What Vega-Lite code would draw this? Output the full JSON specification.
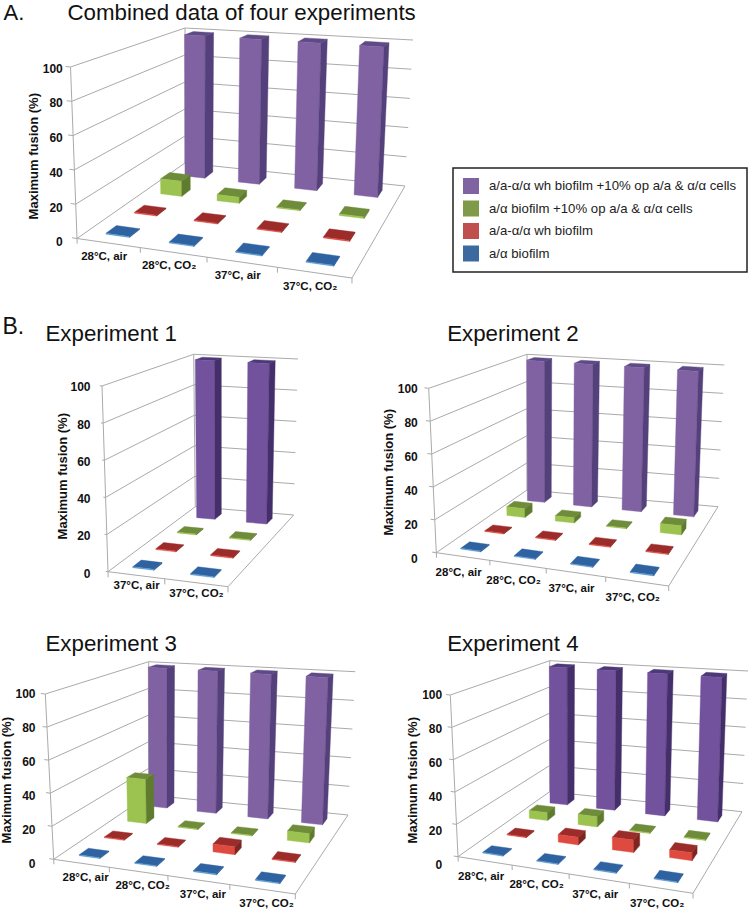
{
"$schema":"https://vega.github.io/schema/vega-lite/v6.json",
"padding":0,"background":"white","spacing":0,"columns":2,"bounds":"flush","align":"each",
"config":{"view":{"stroke":null},"axis":{"labelFont":"Liberation Sans","labelFontWeight":"bold","labelFontSize":12,"labelColor":"#111","titleFont":"Liberation Sans","titleFontWeight":"bold","titleFontSize":13,"titleColor":"#111","grid":false,"ticks":false,"domain":false,"labelPadding":4},"legend":{"labelFont":"Liberation Sans","labelFontSize":13.2,"labelColor":"#222","strokeWidth":1.5},"text":{"font":"Liberation Sans"}},
"params":[
{"name":"G","value":{
"A":[75,238.5,350,278,403,186,183,163,68.5,67,351.5,95.5,411,40,183,28,241.7,1.734,-4,14],
"E1":[106,571.7,226,586.7,291.7,515,193.3,506.7,100,386,226,396.7,296,359,191.7,354.3,573.3,1.866,1,11],
"E2":[434.3,552.7,666.7,586,716,506.7,525,490,426.7,388.3,665.4,415.6,722.3,365,525,354.3,558.3,1.7,-4,16.5],
"E3":[51.7,859.3,293.3,894,346,815,146.7,795,43.3,694,292.3,718.7,353.3,671.7,146.7,661.7,863.3,1.693,4.5,14.5],
"E4":[456,856.7,691,893.3,740,811.7,547.7,791.7,448.3,695,689.3,721.9,746,671,547.7,660.7,864,1.697,-3.5,16]}},
{"name":"PAL","value":[["#5e4a85","#8062a3","#54407a"],["#6f8c3a","#9cc24f","#5f7b2e"],["#9c2c2a","#df4a40","#7e2421"],["#2e62a0","#5c9ad0","#2a5a90"],["#4d3878","#72529c","#452f6b"]]}
],
"data":{"values":[
{"panel":"A","condition":"28°C, air","wh+op":100,"biofilm+op":10,"wh":0,"biofilm":0},
{"panel":"A","condition":"28°C, CO₂","wh+op":100,"biofilm+op":4,"wh":0,"biofilm":0},
{"panel":"A","condition":"37°C, air","wh+op":100,"biofilm+op":0.5,"wh":0,"biofilm":0},
{"panel":"A","condition":"37°C, CO₂","wh+op":100,"biofilm+op":1,"wh":0,"biofilm":0},
{"panel":"E1","condition":"37°C, air","wh+op":100,"biofilm+op":0,"wh":0,"biofilm":0},
{"panel":"E1","condition":"37°C, CO₂","wh+op":100,"biofilm+op":0,"wh":0,"biofilm":0},
{"panel":"E2","condition":"28°C, air","wh+op":100,"biofilm+op":6,"wh":0,"biofilm":0},
{"panel":"E2","condition":"28°C, CO₂","wh+op":100,"biofilm+op":3.5,"wh":0,"biofilm":0},
{"panel":"E2","condition":"37°C, air","wh+op":100,"biofilm+op":0,"wh":0,"biofilm":0},
{"panel":"E2","condition":"37°C, CO₂","wh+op":100,"biofilm+op":6,"wh":0,"biofilm":0},
{"panel":"E3","condition":"28°C, air","wh+op":100,"biofilm+op":30,"wh":0,"biofilm":0},
{"panel":"E3","condition":"28°C, CO₂","wh+op":100,"biofilm+op":0,"wh":0,"biofilm":0},
{"panel":"E3","condition":"37°C, air","wh+op":100,"biofilm+op":0,"wh":5,"biofilm":0},
{"panel":"E3","condition":"37°C, CO₂","wh+op":100,"biofilm+op":6,"wh":0,"biofilm":0},
{"panel":"E4","condition":"28°C, air","wh+op":100,"biofilm+op":5.5,"wh":0,"biofilm":0},
{"panel":"E4","condition":"28°C, CO₂","wh+op":100,"biofilm+op":7,"wh":5,"biofilm":0},
{"panel":"E4","condition":"37°C, air","wh+op":100,"biofilm+op":0,"wh":8,"biofilm":0},
{"panel":"E4","condition":"37°C, CO₂","wh+op":100,"biofilm+op":0,"wh":5,"biofilm":0},
{"line":"wall","level":0},{"line":"wall","level":20},{"line":"wall","level":40},{"line":"wall","level":60},{"line":"wall","level":80},{"line":"wall","level":100},
{"line":"floor"},{"line":"left"},{"line":"back"},
{"line":"tick","k":0},{"line":"tick","k":1},{"line":"tick","k":2},{"line":"tick","k":3},{"line":"tick","k":4},
{"line":"ytick","level":0},{"line":"ytick","level":20},{"line":"ytick","level":40},{"line":"ytick","level":60},{"line":"ytick","level":80},{"line":"ytick","level":100}
]},
"transform":[
{"fold":["wh+op","biofilm+op","wh","biofilm"]},
{"filter":"!datum.line || datum.key=='wh+op'"},
{"calculate":"datum.panel ? [datum.panel] : ['A','E1','E2','E3','E4']","as":"pn"},
{"flatten":["pn"]},
{"filter":"!(datum.pn=='E1' && datum.line=='tick' && datum.k%2==1)"},
{"calculate":"indexof(['wh+op','biofilm+op','wh','biofilm'],datum.key)","as":"s"},
{"calculate":"datum.pn=='E1'?2:4","as":"n"},
{"calculate":"indexof(['28°C, air','28°C, CO₂','37°C, air','37°C, CO₂'],datum.condition)-(datum.pn=='E1'?2:0)","as":"c"},
{"calculate":"datum.line=='wall'?[[4,0,0,0,datum.level/100],[4,1,0,1,datum.level/100],[4,2,1,1,datum.level/100]]:datum.line=='floor'?[[4,0,0,0,0],[4,1,1,0,0],[4,2,1,1,0]]:datum.line=='left'?[[4,0,0,0,0],[4,1,0,0,1]]:datum.line=='back'?[[4,0,0,1,0],[4,1,0,1,1]]:datum.line=='tick'?[[4,0,datum.k/4,0,0],[4,1,datum.k/4,0,-0.03]]:datum.line=='ytick'?[[4,0,-0.02,0,datum.level/100],[4,1,0,0,datum.level/100]]:[[0,0,0,0,1],[0,1,1,0,1],[0,2,1,1,1],[0,3,0,1,1],[1,0,0,0,0],[1,1,1,0,0],[1,2,1,0,1],[1,3,0,0,1],[2,0,1,0,0],[2,1,1,1,0],[2,2,1,1,1],[2,3,1,0,1],[3,0,0.5,0,0]]","as":"v"},
{"flatten":["v"]},
{"calculate":"datum.v[0]","as":"face"},
{"calculate":"datum.v[1]","as":"ord"},
{"calculate":"datum.line?datum.v[2]:(datum.c+0.5+(datum.v[2]-0.5)*0.38)/datum.n","as":"ru"},
{"calculate":"datum.line?datum.v[3]:datum.face==3?0:(3-datum.s+0.5+(datum.v[3]-0.5)*0.36)/4","as":"rv"},
{"calculate":"datum.line?datum.v[4]:datum.v[4]*max(datum.value,0.5)/100","as":"W"},
{"calculate":"datum.ru/(datum.ru+1.116*(1-datum.ru))","as":"U"},
{"calculate":"datum.rv/(datum.rv+0.85*(1-datum.rv))","as":"V"},
{"calculate":"G[datum.pn]","as":"g"},
{"calculate":"(1-datum.W)*((1-datum.U)*(1-datum.V)*datum.g[0]+datum.U*(1-datum.V)*datum.g[2]+datum.U*datum.V*datum.g[4]+(1-datum.U)*datum.V*datum.g[6])+datum.W*((1-datum.U)*(1-datum.V)*datum.g[8]+datum.U*(1-datum.V)*datum.g[10]+datum.U*datum.V*datum.g[12]+(1-datum.U)*datum.V*datum.g[14])+(datum.face==3?datum.g[18]:0)","as":"X"},
{"calculate":"(1-datum.W)*((1-datum.U)*(1-datum.V)*datum.g[1]+datum.U*(1-datum.V)*datum.g[3]+datum.U*datum.V*datum.g[5]+(1-datum.U)*datum.V*datum.g[7])+datum.W*((1-datum.U)*(1-datum.V)*datum.g[9]+datum.U*(1-datum.V)*datum.g[11]+datum.U*datum.V*datum.g[13]+(1-datum.U)*datum.V*datum.g[15])+(datum.face==3?datum.g[19]:0)","as":"Y"},
{"calculate":"(datum.g[16]-datum.Y)/datum.g[17]","as":"yp"},
{"calculate":"datum.line?'#aaaaaa':PAL[(datum.s==0&&(datum.pn=='E1'||datum.pn=='E4'))?4:datum.s][min(datum.face,2)]","as":"col"},
{"calculate":"datum.line?datum.line+datum.level+datum.k:datum.condition+datum.s+datum.face","as":"id"}
],
"concat":[
{"width":375,"height":305,"transform":[{"filter":"datum.pn=='A'"}],
"encoding":{"x":{"field":"X","type":"quantitative","axis":null,"scale":{"domain":[0,375],"nice":false,"zero":false}},"y":{"field":"yp","type":"quantitative","title":"Maximum fusion (%)","scale":{"domain":[-36.505,139.39],"nice":false,"zero":false},"axis":{"values":[0,20,40,60,80,100],"offset":-64.3,"titleX":-26,"titleY":155.7}}},
"layer":[
{"transform":[{"filter":"datum.line"}],"mark":{"type":"line","strokeWidth":1,"color":"#aaaaaa"},"encoding":{"detail":{"field":"id"},"order":{"field":"ord"}}},
{"transform":[{"filter":"!datum.line && datum.face<3"}],"mark":{"type":"line","interpolate":"linear-closed","strokeWidth":0.4},"encoding":{"detail":{"field":"id"},"order":{"field":"ord"},"fill":{"field":"col","scale":null},"stroke":{"field":"col","scale":null}}},
{"transform":[{"filter":"!datum.line && datum.face==3 && datum.s==0"}],"mark":{"type":"text","fontWeight":"bold","fontSize":11.5,"color":"#111"},"encoding":{"text":{"field":"condition"}}},
{"data":{"values":[{"t":"Combined data of four experiments"}]},"transform":[{"calculate":"65.5","as":"X"},{"calculate":"127.7","as":"yp"}],"mark":{"type":"text","fontSize":22.3,"align":"left","baseline":"alphabetic","color":"#111"},"encoding":{"text":{"field":"t"}}},
{"data":{"values":[{"t":"A."}]},"transform":[{"calculate":"1.5","as":"X"},{"calculate":"127.7","as":"yp"}],"mark":{"type":"text","fontSize":22,"align":"left","baseline":"alphabetic","color":"#111"},"encoding":{"text":{"field":"t"}}}
]},
{"width":375,"height":305,"data":{"values":[{"series":"a/a-α/α wh biofilm +10% op a/a & α/α cells"},{"series":"a/α biofilm +10% op a/a & α/α cells"},{"series":"a/a-α/α wh biofilm"},{"series":"a/α biofilm"}]},"transform":[],
"mark":{"type":"square","size":0},
"encoding":{"fill":{"field":"series","type":"nominal","scale":{"domain":["a/a-α/α wh biofilm +10% op a/a & α/α cells","a/α biofilm +10% op a/a & α/α cells","a/a-α/α wh biofilm","a/α biofilm"],"range":["#8064a2","#7f9a48","#c0504d","#3d6a9e"]},"legend":{"title":null,"orient":"none","legendX":451,"legendY":168,"symbolType":"square","symbolSize":256,"symbolStrokeWidth":0,"symbolOpacity":1,"labelOffset":10,"labelLimit":300,"rowPadding":6.5,"padding":10,"strokeColor":"#222","fillColor":"white"}}}},
{"width":375,"height":305,"transform":[{"filter":"datum.pn=='E1'"}],
"encoding":{"x":{"field":"X","type":"quantitative","axis":null,"scale":{"domain":[0,375],"nice":false,"zero":false}},"y":{"field":"yp","type":"quantitative","title":"Maximum fusion (%)","scale":{"domain":[-19.668,143.78],"nice":false,"zero":false},"axis":{"values":[0,20,40,60,80,100],"offset":-92,"titleX":-25,"titleY":170.7}}},
"layer":[
{"transform":[{"filter":"datum.line"}],"mark":{"type":"line","strokeWidth":1,"color":"#aaaaaa"},"encoding":{"detail":{"field":"id"},"order":{"field":"ord"}}},
{"transform":[{"filter":"!datum.line && datum.face<3"}],"mark":{"type":"line","interpolate":"linear-closed","strokeWidth":0.4},"encoding":{"detail":{"field":"id"},"order":{"field":"ord"},"fill":{"field":"col","scale":null},"stroke":{"field":"col","scale":null}}},
{"transform":[{"filter":"!datum.line && datum.face==3 && datum.s==0"}],"mark":{"type":"text","fontWeight":"bold","fontSize":11.5,"color":"#111"},"encoding":{"text":{"field":"condition"}}},
{"data":{"values":[{"t":"Experiment 1"}]},"transform":[{"calculate":"43.5","as":"X"},{"calculate":"124.65","as":"yp"}],"mark":{"type":"text","fontSize":22.3,"align":"left","baseline":"alphabetic","color":"#111"},"encoding":{"text":{"field":"t"}}},
{"data":{"values":[{"t":"B."}]},"transform":[{"calculate":"0.5","as":"X"},{"calculate":"128.24","as":"yp"}],"mark":{"type":"text","fontSize":23,"align":"left","baseline":"alphabetic","color":"#111"},"encoding":{"text":{"field":"t"}}}
]},
{"width":375,"height":305,"transform":[{"filter":"datum.pn=='E2'"}],
"encoding":{"x":{"field":"X","type":"quantitative","axis":null,"scale":{"domain":[375,750],"nice":false,"zero":false}},"y":{"field":"yp","type":"quantitative","title":"Maximum fusion (%)","scale":{"domain":[-30.412,149.0],"nice":false,"zero":false},"axis":{"values":[0,20,40,60,80,100],"offset":-44.3,"titleX":-26,"titleY":166.7}}},
"layer":[
{"transform":[{"filter":"datum.line"}],"mark":{"type":"line","strokeWidth":1,"color":"#aaaaaa"},"encoding":{"detail":{"field":"id"},"order":{"field":"ord"}}},
{"transform":[{"filter":"!datum.line && datum.face<3"}],"mark":{"type":"line","interpolate":"linear-closed","strokeWidth":0.4},"encoding":{"detail":{"field":"id"},"order":{"field":"ord"},"fill":{"field":"col","scale":null},"stroke":{"field":"col","scale":null}}},
{"transform":[{"filter":"!datum.line && datum.face==3 && datum.s==0"}],"mark":{"type":"text","fontWeight":"bold","fontSize":11.5,"color":"#111"},"encoding":{"text":{"field":"condition"}}},
{"data":{"values":[{"t":"Experiment 2"}]},"transform":[{"calculate":"445.2","as":"X"},{"calculate":"128.0","as":"yp"}],"mark":{"type":"text","fontSize":22.3,"align":"left","baseline":"alphabetic","color":"#111"},"encoding":{"text":{"field":"t"}}}
]},
{"width":375,"height":302,"transform":[{"filter":"datum.pn=='E3'"}],
"encoding":{"x":{"field":"X","type":"quantitative","axis":null,"scale":{"domain":[0,375],"nice":false,"zero":false}},"y":{"field":"yp","type":"quantitative","title":"Maximum fusion (%)","scale":{"domain":[-28.766,149.616],"nice":false,"zero":false},"axis":{"values":[0,20,40,60,80,100],"offset":-37,"titleX":-25.3,"titleY":169.7}}},
"layer":[
{"transform":[{"filter":"datum.line"}],"mark":{"type":"line","strokeWidth":1,"color":"#aaaaaa"},"encoding":{"detail":{"field":"id"},"order":{"field":"ord"}}},
{"transform":[{"filter":"!datum.line && datum.face<3"}],"mark":{"type":"line","interpolate":"linear-closed","strokeWidth":0.4},"encoding":{"detail":{"field":"id"},"order":{"field":"ord"},"fill":{"field":"col","scale":null},"stroke":{"field":"col","scale":null}}},
{"transform":[{"filter":"!datum.line && datum.face==3 && datum.s==0"}],"mark":{"type":"text","fontWeight":"bold","fontSize":11.5,"color":"#111"},"encoding":{"text":{"field":"condition"}}},
{"data":{"values":[{"t":"Experiment 3"}]},"transform":[{"calculate":"43.5","as":"X"},{"calculate":"125.58","as":"yp"}],"mark":{"type":"text","fontSize":22.3,"align":"left","baseline":"alphabetic","color":"#111"},"encoding":{"text":{"field":"t"}}}
]},
{"width":375,"height":302,"transform":[{"filter":"datum.pn=='E4'"}],
"encoding":{"x":{"field":"X","type":"quantitative","axis":null,"scale":{"domain":[375,750],"nice":false,"zero":false}},"y":{"field":"yp","type":"quantitative","title":"Maximum fusion (%)","scale":{"domain":[-28.285,149.676],"nice":false,"zero":false},"axis":{"values":[0,20,40,60,80,100],"offset":-68.7,"titleX":-26,"titleY":169.7}}},
"layer":[
{"transform":[{"filter":"datum.line"}],"mark":{"type":"line","strokeWidth":1,"color":"#aaaaaa"},"encoding":{"detail":{"field":"id"},"order":{"field":"ord"}}},
{"transform":[{"filter":"!datum.line && datum.face<3"}],"mark":{"type":"line","interpolate":"linear-closed","strokeWidth":0.4},"encoding":{"detail":{"field":"id"},"order":{"field":"ord"},"fill":{"field":"col","scale":null},"stroke":{"field":"col","scale":null}}},
{"transform":[{"filter":"!datum.line && datum.face==3 && datum.s==0"}],"mark":{"type":"text","fontWeight":"bold","fontSize":11.5,"color":"#111"},"encoding":{"text":{"field":"condition"}}},
{"data":{"values":[{"t":"Experiment 4"}]},"transform":[{"calculate":"445.2","as":"X"},{"calculate":"125.69","as":"yp"}],"mark":{"type":"text","fontSize":22.3,"align":"left","baseline":"alphabetic","color":"#111"},"encoding":{"text":{"field":"t"}}}
]}
]
}
